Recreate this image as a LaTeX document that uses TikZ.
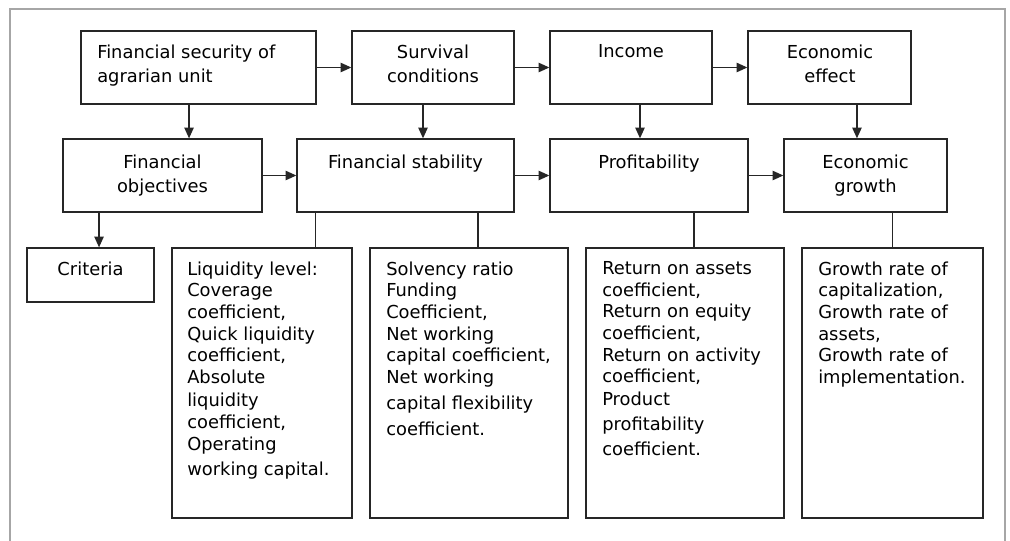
\documentclass[tikz,border=0pt]{standalone}
\usepackage{fontspec}
\setmainfont{DejaVu Sans}
\usetikzlibrary{fit,arrows.meta}

\begin{document}
\begin{tikzpicture}[
  x=0.75pt, y=-0.75pt,
  box/.style={draw=black!85, line width=1pt, inner sep=0pt, fit={#1}},
  head/.style={anchor=north, align=center, inner sep=0pt, font=\fontsize{13.4}{18}\selectfont},
  lst/.style={anchor=north west, align=left, inner sep=0pt, font=\fontsize{13.4}{16.25}\selectfont},
  arr/.style={draw=black!85, line width=1pt, -{Triangle[length=8pt,width=7pt]}},
  link/.style={draw=black!85, line width=1pt},
  frame/.style={draw=black!35, line width=1.6pt}
]
\useasboundingbox (0,0) rectangle (1010,541);
\draw[frame] (10,541) -- (10,9) -- (1005,9) -- (1005,541);

% first row
\node[box={(81,31) (316,104)}] (sec) {};
\node[box={(352,31) (514,104)}] (surv) {};
\node[box={(550,31) (712,104)}] (inc) {};
\node[box={(748,31) (911,104)}] (eff) {};
\node[head, anchor=north west, align=left] (sec-t) at (97,44.7) {Financial security of\\agrarian unit};
\node[head] (surv-t) at (433,44.7) {Survival\\conditions};
\node[head] (inc-t) at (631,44.7) {Income};
\node[head] (eff-t) at (830,44.7) {Economic\\effect};

% second row
\node[box={(63,139) (262,212)}] (obj) {};
\node[box={(297,139) (514,212)}] (stab) {};
\node[box={(550,139) (748,212)}] (prof) {};
\node[box={(784,139) (947,212)}] (grow) {};
\node[head] (obj-t) at (162.5,154.6) {Financial\\objectives};
\node[head] (stab-t) at (405.5,154.6) {Financial stability};
\node[head] (prof-t) at (649,154.6) {Profitability};
\node[head] (grow-t) at (865.5,154.6) {Economic\\growth};

% third row
\node[box={(27,248) (154,302)}] (crit) {};
\node[box={(172,248) (352,518)}] (liq) {};
\node[box={(370,248) (568,518)}] (solv) {};
\node[box={(586,248) (784,518)}] (ret) {};
\node[box={(802,248) (983,518)}] (rate) {};
\node[head] (crit-t) at (90.5,261.3) {Criteria};
\node[lst] (liq-t) at (187,261.3) {Liquidity level:\\Coverage\\coefficient,\\Quick liquidity\\coefficient,\\Absolute\\[1.2pt]liquidity\\coefficient,\\Operating\\[2.5pt]working capital.};
\node[lst] (solv-t) at (386,261.3) {Solvency ratio\\Funding\\Coefficient,\\Net working\\capital coefficient,\\Net working\\[3pt]capital flexibility\\[3.2pt]coefficient.};
\node[lst] (ret-t) at (602,261.3) {Return on assets\\coefficient,\\Return on equity\\coefficient,\\Return on activity\\coefficient,\\[0.5pt]Product\\[2.5pt]profitability\\[2.5pt]coefficient.};
\node[lst] (rate-t) at (818,261.3) {Growth rate of\\capitalization,\\Growth rate of\\assets,\\Growth rate of\\implementation.};

% arrows
\draw[arr] (sec) -- (surv);
\draw[arr] (surv) -- (inc);
\draw[arr] (inc) -- (eff);
\draw[arr] (obj) -- (stab);
\draw[arr] (stab) -- (prof);
\draw[arr] (prof) -- (grow);
\draw[arr] ([xshift=-7.1pt]sec.south) -- ([xshift=-7.1pt]sec.south |- obj.north);
\draw[arr] ([xshift=-7.5pt]surv.south) -- ([xshift=-7.5pt]surv.south |- stab.north);
\draw[arr] ([xshift=6.75pt]inc.south) -- ([xshift=6.75pt]inc.south |- prof.north);
\draw[arr] ([xshift=20.6pt]eff.south) -- ([xshift=20.6pt]eff.south |- grow.north);
\draw[arr] ([xshift=6.4pt]crit.north |- obj.south) -- ([xshift=6.4pt]crit.north);
\draw[link] ([xshift=14.25pt]stab.south west) -- ([xshift=14.25pt]stab.south west |- liq.north);
\draw[link] ([xshift=6.75pt]solv.north |- stab.south) -- ([xshift=6.75pt]solv.north);
\draw[link] ([xshift=6.75pt]ret.north |- prof.south) -- ([xshift=6.75pt]ret.north);
\draw[link] (rate.north |- grow.south) -- (rate.north);
\end{tikzpicture}
\end{document}
